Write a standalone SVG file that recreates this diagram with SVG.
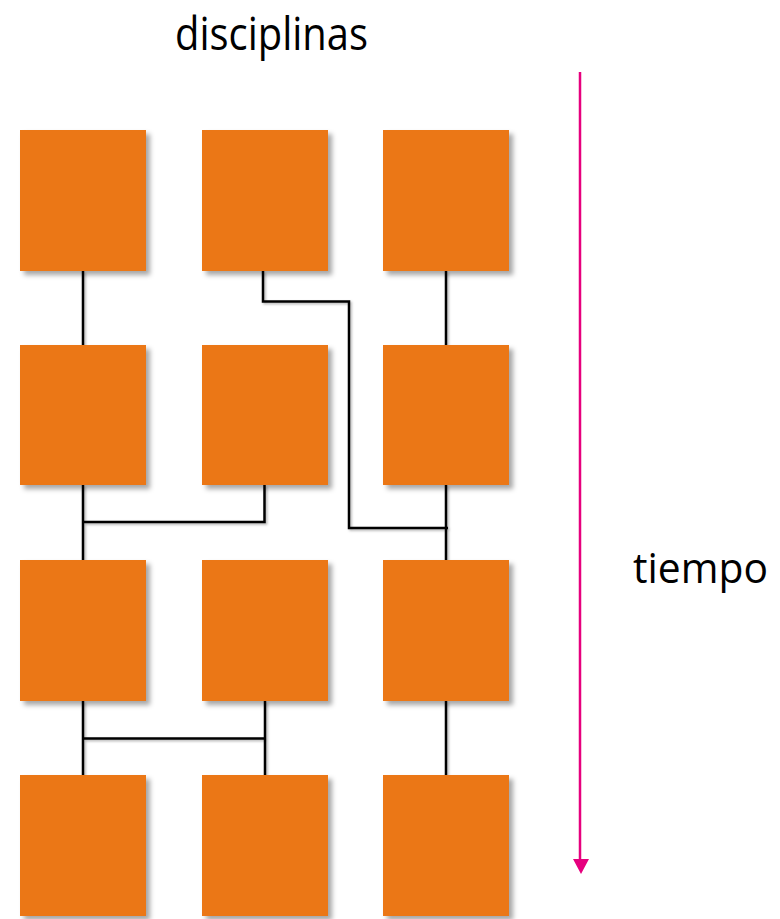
<svg xmlns="http://www.w3.org/2000/svg" width="780" height="919" viewBox="0 0 780 919">
<defs>
<filter id="sh" x="-10%" y="-10%" width="130%" height="130%">
<feDropShadow dx="4" dy="4" stdDeviation="2.5" flood-color="#000" flood-opacity="0.35"/>
</filter>
<filter id="lsh" x="-20%" y="-20%" width="140%" height="140%">
<feDropShadow dx="1.5" dy="1.5" stdDeviation="0.8" flood-color="#000" flood-opacity="0.3"/>
</filter>
<style>
.n{fill:#EB7719;filter:url(#sh)}
.c{fill:none;stroke:#000;stroke-width:2.5;stroke-linejoin:miter}
.t{font-family:"Open Sans","Liberation Sans",sans-serif;fill:#000}
</style>
</defs>
<rect width="780" height="919" fill="#fff"/>
<text class="t" x="175" y="50" font-size="45" textLength="193" lengthAdjust="spacingAndGlyphs">disciplinas</text>
<text class="t" x="633" y="583" font-size="42" textLength="135" lengthAdjust="spacingAndGlyphs">tiempo</text>
<g id="connectors" filter="url(#lsh)">
<path class="c" d="M83,271 V345"/>
<path class="c" d="M446,271 V345"/>
<path class="c" d="M263,271 V301.5 H349 V528 H448"/>
<path class="c" d="M83,485 V560"/>
<path class="c" d="M264.5,485 V522 H83"/>
<path class="c" d="M446,485 V560"/>
<path class="c" d="M83,701 V775"/>
<path class="c" d="M265,701 V775"/>
<path class="c" d="M83,738.5 H265"/>
<path class="c" d="M446,701 V775"/>
</g>
<g id="time-arrow">
<line x1="580" y1="72" x2="580" y2="862" stroke="#E6007E" stroke-width="2.5"/>
<path d="M573,859 L589,859 L581,874 Z" fill="#E6007E"/>
</g>
<g id="n11"><rect class="n" x="20" y="130" width="126" height="141"/></g>
<g id="n12"><rect class="n" x="202" y="130" width="126" height="141"/></g>
<g id="n13"><rect class="n" x="383" y="130" width="126" height="141"/></g>
<g id="n21"><rect class="n" x="20" y="345" width="126" height="140"/></g>
<g id="n22"><rect class="n" x="202" y="345" width="126" height="140"/></g>
<g id="n23"><rect class="n" x="383" y="345" width="126" height="140"/></g>
<g id="n31"><rect class="n" x="20" y="560" width="126" height="141"/></g>
<g id="n32"><rect class="n" x="202" y="560" width="126" height="141"/></g>
<g id="n33"><rect class="n" x="383" y="560" width="126" height="141"/></g>
<g id="n41"><rect class="n" x="20" y="775" width="126" height="141"/></g>
<g id="n42"><rect class="n" x="202" y="775" width="126" height="141"/></g>
<g id="n43"><rect class="n" x="383" y="775" width="126" height="141"/></g>
</svg>
